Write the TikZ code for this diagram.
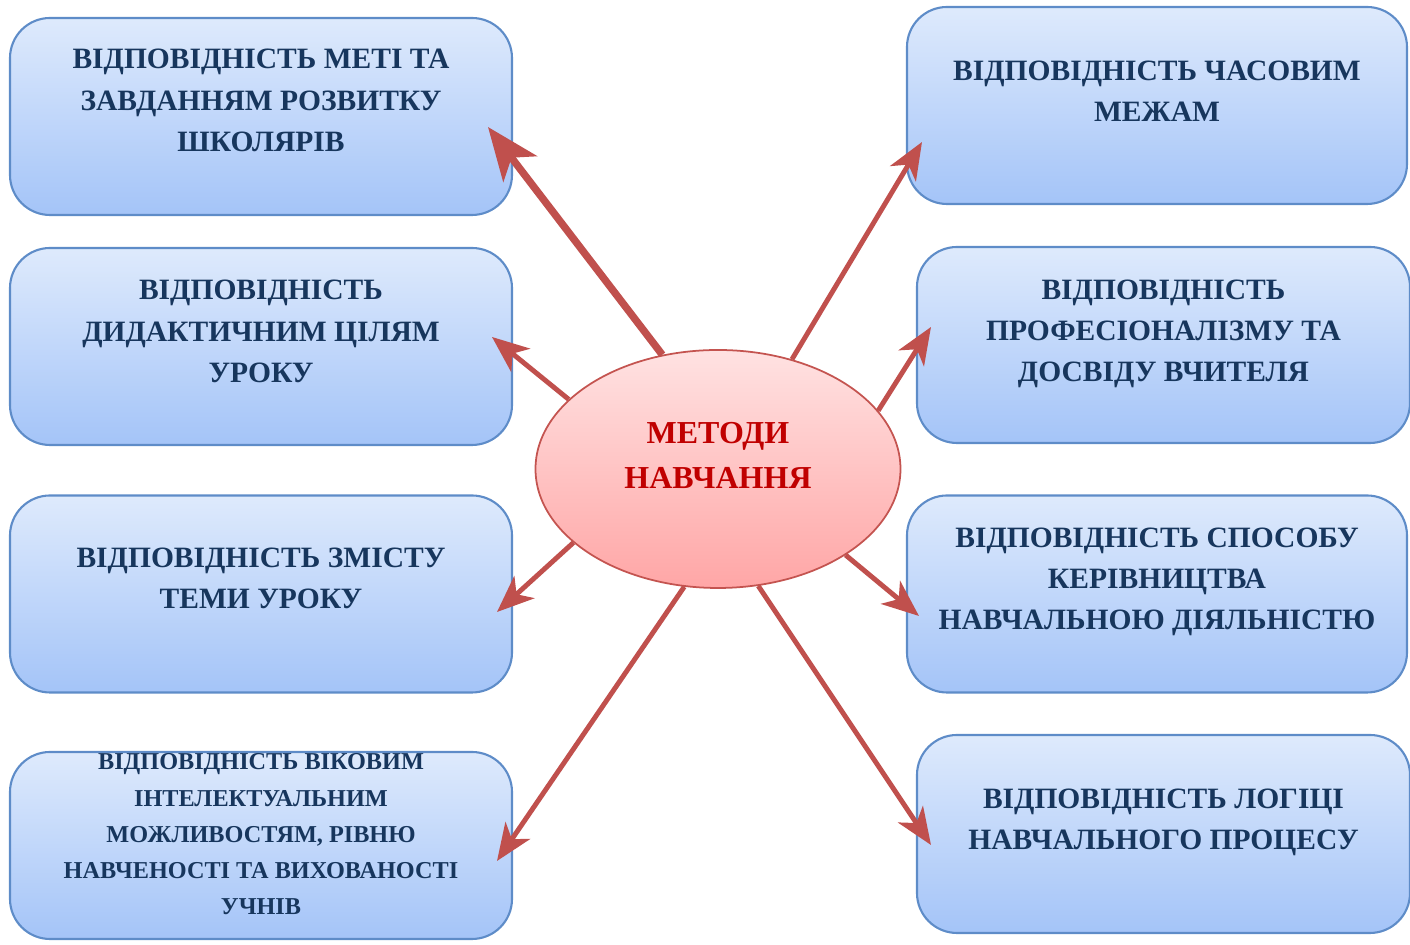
\documentclass[tikz,border=0pt]{standalone}
\usepackage{fontspec}
\setmainfont{Liberation Serif}
\usepackage{tikz}
\usetikzlibrary{arrows.meta,positioning,calc,shapes.geometric}

\definecolor{boxtop}{RGB}{222,234,252}
\definecolor{boxbottom}{RGB}{164,196,248}
\definecolor{boxline}{RGB}{94,140,200}
\definecolor{boxtext}{RGB}{23,54,93}
\definecolor{ovaltop}{RGB}{255,226,226}
\definecolor{ovalbottom}{RGB}{255,166,166}
\definecolor{ovalline}{RGB}{196,84,80}
\definecolor{ovaltext}{RGB}{192,0,0}
\definecolor{arrowred}{RGB}{192,80,77}

\begin{document}
\begin{tikzpicture}[
    criterion/.style={draw=boxline, line width=0.6pt, rounded corners=0.4cm, top color=boxtop, bottom color=boxbottom, minimum width=5cm, minimum height=1.97cm, inner sep=0pt},
    criteriontext/.style={align=center, text=boxtext, font=\bfseries\fontsize{8.4}{11.7}\selectfont},
    pointer/.style={arrowred, line width=1.4pt, -{Stealth[length=10.5pt,width=8.5pt,inset=3pt]}},
    ]
    \useasboundingbox (0,0) rectangle (14.1,-9.45);

    % left column
    \node[criterion, minimum width=5.02cm] (l1) at (2.61,-1.165) {};
    \node[criteriontext] (lt1) at ([yshift=0.16cm]l1.center) {ВІДПОВІДНІСТЬ МЕТІ ТА\\ЗАВДАННЯМ РОЗВИТКУ\\ШКОЛЯРІВ};
    \node[criterion, minimum width=5.02cm] (l2) at (2.61,-3.465) {};
    \node[criteriontext] (lt2) at ([yshift=0.15cm]l2.center) {ВІДПОВІДНІСТЬ\\ДИДАКТИЧНИМ ЦІЛЯМ\\УРОКУ};
    \node[criterion, minimum width=5.02cm] (l3) at (2.61,-5.94) {};
    \node[criteriontext] (lt3) at ([yshift=0.16cm]l3.center) {ВІДПОВІДНІСТЬ ЗМІСТУ\\ТЕМИ УРОКУ};
    \node[criterion, minimum width=5.02cm, minimum height=1.87cm] (l4) at (2.61,-8.455) {};
    \node[criteriontext, font=\bfseries\fontsize{6.9}{10.3}\selectfont] (lt4) at ([yshift=0.11cm]l4.center) {ВІДПОВІДНІСТЬ ВІКОВИМ\\ІНТЕЛЕКТУАЛЬНИМ\\МОЖЛИВОСТЯМ, РІВНЮ\\НАВЧЕНОСТІ ТА ВИХОВАНОСТІ\\УЧНІВ};

    % right column
    \node[criterion] (r1) at (11.57,-1.055) {};
    \node[criteriontext] (rt1) at ([yshift=0.14cm]r1.center) {ВІДПОВІДНІСТЬ ЧАСОВИМ\\МЕЖАМ};
    \node[criterion, minimum width=4.93cm, minimum height=1.96cm] (r2) at (11.635,-3.45) {};
    \node[criteriontext] (rt2) at ([yshift=0.11cm]r2.center) {ВІДПОВІДНІСТЬ\\ПРОФЕСІОНАЛІЗМУ ТА\\ДОСВІДУ ВЧИТЕЛЯ};
    \node[criterion] (r3) at (11.57,-5.94) {};
    \node[criteriontext] (rt3) at ([yshift=0.12cm]r3.center) {ВІДПОВІДНІСТЬ СПОСОБУ\\КЕРІВНИЦТВА\\НАВЧАЛЬНОЮ ДІЯЛЬНІСТЮ};
    \node[criterion, minimum width=4.93cm, minimum height=1.98cm] (r4) at (11.635,-8.34) {};
    \node[criteriontext] (rt4) at ([yshift=0.12cm]r4.center) {ВІДПОВІДНІСТЬ ЛОГІЦІ\\НАВЧАЛЬНОГО ПРОЦЕСУ};

    % centre
    \node[ellipse, draw=ovalline, line width=0.5pt, top color=ovaltop, bottom color=ovalbottom, minimum width=3.65cm, minimum height=2.38cm] (m) at (7.18,-4.69) {};
    \node[align=center, text=ovaltext, font=\bfseries\fontsize{9.1}{12.8}\selectfont] (mt) at ([yshift=0.14cm]m.center) {МЕТОДИ\\НАВЧАННЯ};

    % arrow tips
    \coordinate (p1) at (4.88,-1.27);
    \coordinate (p2) at (4.92,-3.37);
    \coordinate (p3) at (4.97,-6.12);
    \coordinate (p4) at (4.97,-8.61);
    \coordinate (p5) at (9.22,-1.42);
    \coordinate (p6) at (9.31,-3.27);
    \coordinate (p7) at (9.19,-6.16);
    \coordinate (p8) at (9.31,-8.45);

    \draw[pointer, line width=2.1pt, -{Stealth[length=15pt,width=12pt,inset=4pt]}] (m.116) -- (p1);
    \draw[pointer] (m.155) -- (p2);
    \draw[pointer] (m.207) -- (p3);
    \draw[pointer] (m.254) -- (p4);
    \draw[pointer] (m.56) -- (p5);
    \draw[pointer] (m.20) -- (p6);
    \draw[pointer] (m.326) -- (p7);
    \draw[pointer] (m.289) -- (p8);
\end{tikzpicture}
\end{document}
